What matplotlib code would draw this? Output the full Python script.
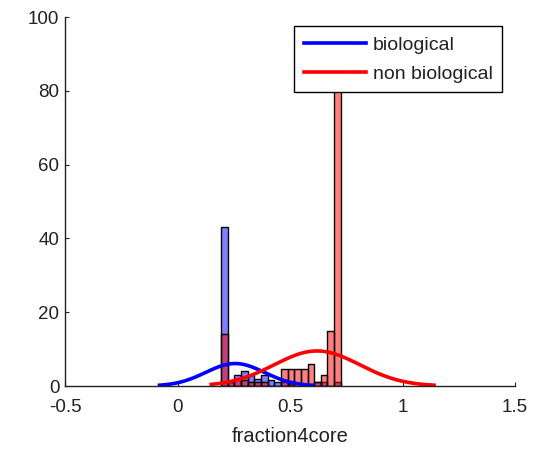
import numpy as np
import matplotlib
matplotlib.use("Agg")
import matplotlib.pyplot as plt

plt.rcParams['font.family'] = ['Liberation Sans', 'DejaVu Sans']

# histogram bins (common edges)
bin_left0 = 0.193
bin_width = 0.0296
blue_counts = [43, 1, 3, 4, 3, 2, 3, 1.5, 1, 1, 0.5, 0, 0, 0, 1, 1, 0, 1]
red_counts = [14, 1, 2, 1.5, 1, 1, 1, 0, 0, 4.5, 4.5, 4.5, 4.5, 6, 1, 3, 15, 90]

# fitted normal curves
blue_mu, blue_sigma, blue_peak = 0.256, 0.13, 6.1
red_mu, red_sigma, red_peak = 0.62, 0.19, 9.5
blue_range = (-0.08, 0.6)
red_range = (0.15, 1.14)

xticks = [-0.5, 0, 0.5, 1, 1.5]
xtick_labels = ['-0.5', '0', '0.5', '1', '1.5']
yticks = [0, 20, 40, 60, 80, 100]
xlabel = 'fraction4core'
labels = ['biological', 'non biological']

fig = plt.figure(figsize=(5.39, 4.51), dpi=100)
ax = fig.add_axes([0.1206, 0.1441, 0.8349, 0.8182])

lefts_b = bin_left0 + bin_width * np.arange(len(blue_counts))
lefts_r = bin_left0 + bin_width * np.arange(len(red_counts))
ax.bar(lefts_b, blue_counts, width=bin_width, align='edge',
       facecolor=(0, 0, 1, 0.5), edgecolor='black', linewidth=1.0)
ax.bar(lefts_r, red_counts, width=bin_width, align='edge',
       facecolor=(1, 0, 0, 0.5), edgecolor='black', linewidth=1.0)

xb = np.linspace(blue_range[0], blue_range[1], 200)
xr = np.linspace(red_range[0], red_range[1], 200)
yb = blue_peak * np.exp(-0.5 * ((xb - blue_mu) / blue_sigma) ** 2)
yr = red_peak * np.exp(-0.5 * ((xr - red_mu) / red_sigma) ** 2)
lb, = ax.plot(xb, yb, color=(0, 0, 1), linewidth=2.6, label=labels[0])
lr, = ax.plot(xr, yr, color=(1, 0, 0), linewidth=2.6, label=labels[1])

ax.set_xlim(-0.5, 1.5)
ax.set_ylim(0, 100)
ax.set_xticks(xticks)
ax.set_xticklabels(xtick_labels)
ax.set_yticks(yticks)
ax.tick_params(direction='in', length=3, width=0.8, labelsize=13.5, colors='#222222')
ax.tick_params(axis='x', pad=9)
ax.tick_params(axis='y', pad=4)
for s in ['top', 'right']:
    ax.spines[s].set_visible(False)
for s in ['left', 'bottom']:
    ax.spines[s].set_linewidth(1.0)
    ax.spines[s].set_color('#222222')
ax.set_xlabel(xlabel, fontsize=14.5, labelpad=8, color='#222222')

leg = ax.legend(handles=[lb, lr], loc='upper left', bbox_to_anchor=(0.509, 0.976),
                frameon=True, fancybox=False, framealpha=1, edgecolor='black',
                fontsize=14, handlelength=3.2, borderpad=0.5, labelspacing=0.55,
                handletextpad=0.35, borderaxespad=0, handleheight=0.8)
leg.get_frame().set_linewidth(1.0)
for t in leg.get_texts():
    t.set_color('#222222')

fig.savefig('out.png', dpi=100)
